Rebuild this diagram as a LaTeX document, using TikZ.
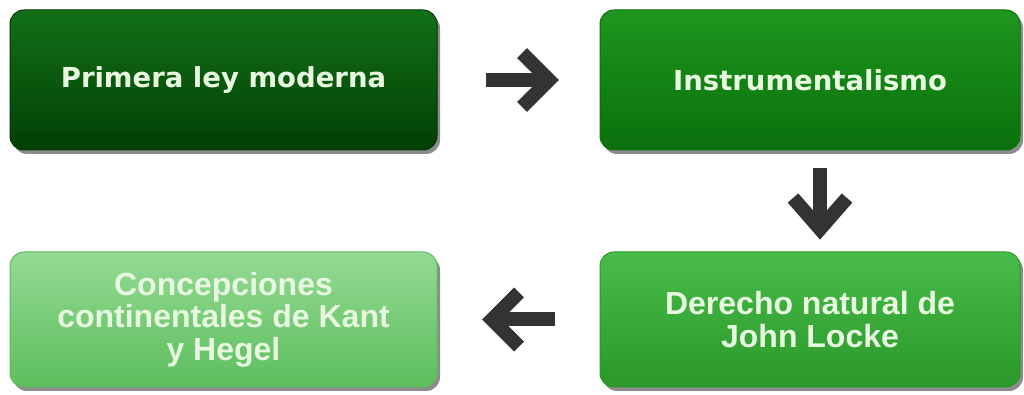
\documentclass[tikz,border=0pt]{standalone}
\usepackage{fontspec}
\setmainfont{Liberation Sans}
\newfontfamily\topfont{DejaVu Sans}
\usetikzlibrary{shadows,calc}
\definecolor{txt}{RGB}{232,248,224}
\definecolor{arr}{RGB}{51,51,51}
\definecolor{gA1}{RGB}{18,112,24}\definecolor{gA2}{RGB}{2,64,4}
\definecolor{gB1}{RGB}{30,150,30}\definecolor{gB2}{RGB}{10,112,12}
\definecolor{gC1}{RGB}{72,188,72}\definecolor{gC2}{RGB}{42,152,42}
\definecolor{gD1}{RGB}{148,218,148}\definecolor{gD2}{RGB}{92,190,92}
\tikzset{
  box/.style={rounded corners=14pt, minimum width=427pt, minimum height=140pt,
    align=center, text=txt, inner sep=0pt, line width=1pt,
    drop shadow={shadow xshift=3pt, shadow yshift=-4pt, fill=black, opacity=0.45}},
  topbox/.style={box, font=\topfont\bfseries\fontsize{27.5}{32}\selectfont},
  botbox/.style={box, minimum height=135pt, font=\bfseries\fontsize{32}{32.5}\selectfont},
  bigarrow/.style={draw=arr, line width=14pt, line join=miter, line cap=butt}
}
\begin{document}
\begin{tikzpicture}[x=1pt,y=1pt]
\useasboundingbox (0,0) rectangle (1024,395);
\node[topbox, top color=gA1, bottom color=gA2, draw=gA2!80!black] (b1) at (223.5,315) {Primera ley moderna};
\node[topbox, minimum width=420pt, top color=gB1, bottom color=gB2, draw=gB2] (b2) at (810,315) {Instrumentalismo};
\node[botbox, minimum width=420pt, top color=gC1, bottom color=gC2, draw=gC2] (b3) at (810,75.5) {Derecho natural de\\John Locke};
\node[botbox, top color=gD1, bottom color=gD2, draw=gD2] (b4) at (223.5,75.5) {Concepciones\\continentales de Kant\\y Hegel};
% right arrow
\coordinate (r) at ($(b1.east)!0.5!(b2.west)+(1.5,0)$);
\draw[bigarrow] ($(r)+(-34,0)$) -- ($(r)+(28,0)$);
\draw[bigarrow] ($(r)+(2,27)$) -- ($(r)+(29,0)$) -- ($(r)+(2,-27)$);
% down arrow
\coordinate (d) at ($(b2.south)!0.5!(b3.north)+(10,0)$);
\draw[bigarrow] ($(d)+(0,33)$) -- ($(d)+(0,-27)$);
\draw[bigarrow] ($(d)+(-27,3)$) -- ($(d)+(0,-28)$) -- ($(d)+(27,3)$);
% left arrow
\coordinate (l) at ($(b3.west)!0.5!(b4.east)+(2.5,0)$);
\draw[bigarrow] ($(l)+(34,0)$) -- ($(l)+(-28,0)$);
\draw[bigarrow] ($(l)+(-2,27)$) -- ($(l)+(-29,0)$) -- ($(l)+(-2,-27)$);
\end{tikzpicture}
\end{document}
